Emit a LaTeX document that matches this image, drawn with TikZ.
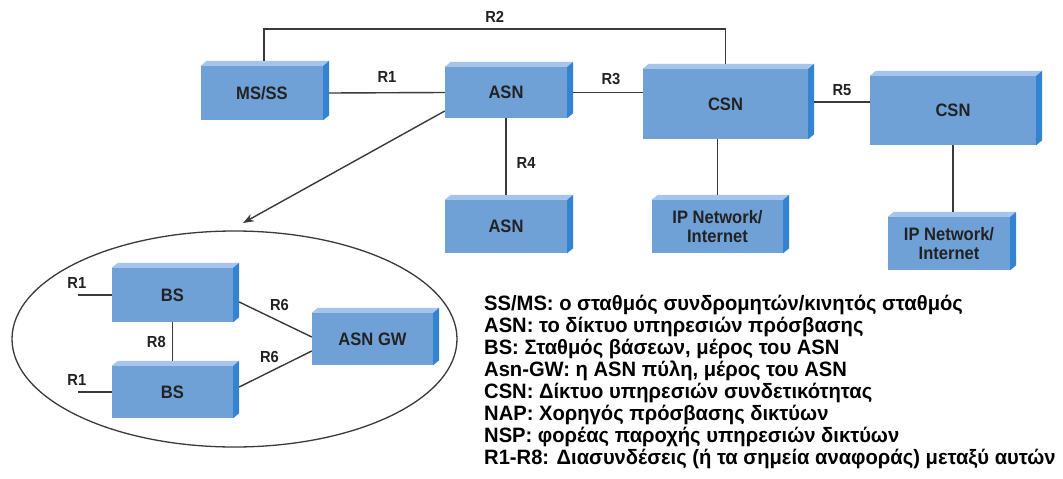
\documentclass[tikz,border=0pt]{standalone}
\usepackage{fontspec}
\setmainfont{Liberation Sans}
\newfontfamily\boxfont[FakeStretch=0.92]{Liberation Sans}
\newfontfamily\legfont[FakeStretch=0.97]{Liberation Sans}
\usetikzlibrary{arrows.meta,shapes.geometric,calc}
\definecolor{frontc}{RGB}{111,161,214}
\definecolor{topc}{RGB}{165,197,236}
\definecolor{sidec}{RGB}{50,132,208}
\definecolor{linec}{RGB}{58,58,58}
\definecolor{txtc}{RGB}{34,34,34}
\tikzset{
  cube/.style={fill=frontc, draw=none, inner sep=0pt, align=center, text=txtc,
    font=\boxfont\bfseries\fontsize{18}{19}\selectfont},
  conn/.style={draw=linec, line width=1.4pt},
  elabel/.style={inner sep=0pt, text=txtc, font=\boxfont\bfseries\fontsize{16}{18}\selectfont},
  leg/.style={inner sep=0pt, anchor=base west, text=black, font=\legfont\bfseries\fontsize{20.8}{22}\selectfont},
}
\newcommand\cubebox[6]{%
  \node[cube, minimum width={(#4-#2)*1pt}, minimum height={(#5-#3)*1pt}] (#1) at ({(#2+#4)/2},{(#3+#5)/2}) {#6};
  \fill[topc] (#1.north west) -- ++(6,-5) -- ($(#1.north east)+(6,-5)$) -- (#1.north east) -- cycle;
  \fill[sidec] (#1.north east) -- ++(6,-5) -- ($(#1.south east)+(6,-5)$) -- (#1.south east) -- cycle;
}
\begin{document}
\begin{tikzpicture}[x=1pt,y=-1pt]
\fill[white] (0,0) rectangle (1063,479);
\useasboundingbox (0,0) rectangle (1063,479);

% top level boxes
\cubebox{ms}{201}{66}{323}{120}{MS/SS}
\cubebox{asn1}{445}{67}{567}{118}{ASN}
\cubebox{csn1}{643}{69}{808}{139}{CSN}
\cubebox{csn2}{870}{76}{1036}{145}{CSN}
\cubebox{asn2}{445}{200}{567}{253}{ASN}
\cubebox{ip1}{652}{200}{783}{253}{IP Network/\\Internet}
\cubebox{ip2}{888}{217}{1010}{270}{IP Network/\\Internet}

% R2
\coordinate (r2y) at (0,29);
\coordinate (msT) at ([xshift=2pt,yshift=5pt]ms.north);
\coordinate (csT) at ([yshift=5pt]csn1.north);
\draw[conn] (msT) -- (msT |- r2y) -- node[elabel, above=6pt] (lR2) {R2} (csT |- r2y) -- (csT);

% R1
\draw[conn] ([xshift=6pt]ms.east) -- node[elabel, above=10pt] (lR1) {R1} (asn1.west);
% R3
\draw[conn] ([xshift=6pt]asn1.east) -- node[elabel, above=7pt, xshift=3pt] (lR3) {R3} (asn1.east -| csn1.west);
% R5
\coordinate (r5y) at (0,102);
\draw[conn] (csn1.east |- r5y) ++(6,0) -- node[elabel, above=6pt] (lR5) {R5} (csn2.west |- r5y);
% R4
\draw[conn] (asn1.south) -- node[elabel, right=10pt, yshift=-6pt] (lR4) {R4} ([yshift=5pt]asn2.north);
% CSN - IP
\coordinate (ip1T) at ([yshift=5pt]ip1.north);
\draw[conn] (ip1.north |- csn1.south) -- (ip1T);
\coordinate (ip2T) at ([yshift=5pt]ip2.north);
\draw[conn] (csn2.south) -- (csn2.south |- ip2T);

% ellipse
\node[draw=linec, line width=1.3pt, ellipse, minimum width=445pt, minimum height=216pt, inner sep=0pt] (ell) at (234.5,339) {};
\coordinate (arrtip) at (243,223);
\draw[conn, -{Stealth[length=11pt,width=8pt]}] ([yshift=-18.5pt]asn1.west) -- (arrtip);

% inner boxes
\cubebox{bs1}{112}{268}{233}{322}{BS}
\cubebox{bs2}{112}{366}{233}{418}{BS}
\cubebox{gw}{312}{313}{433}{365}{ASN GW}

\draw[conn] (bs1.west) -- node[elabel, above=6pt, pos=1, xshift=-1pt] (lR1a) {R1} ++(-34,0);
\draw[conn] (bs2.west) -- node[elabel, above=6pt, pos=1, xshift=-1pt] (lR1b) {R1} ++(-34,0);
\draw[conn] (bs1.south) -- node[elabel, left=6pt] (lR8) {R8} ([yshift=5pt]bs2.north);
\draw[conn] ([xshift=6pt,yshift=-7pt]bs1.east) -- node[elabel, above=8pt, xshift=4pt] (lR6a) {R6} ([yshift=2pt]gw.west);
\draw[conn] ([xshift=6pt,yshift=5pt]bs2.east) -- node[elabel, above=6pt, xshift=-6pt] (lR6b) {R6} ([yshift=-12pt]gw.west);

% legend
\node[leg] (leg1) at (484,310) {SS/MS: ο σταθμός συνδρομητών/κινητός σταθμός};
\node[leg] (leg2) at (484,332) {ASN: το δίκτυο υπηρεσιών πρόσβασης};
\node[leg] (leg3) at (484,354) {BS: Σταθμός βάσεων, μέρος του ASN};
\node[leg] (leg4) at (484,376) {Asn-GW: η ASN πύλη, μέρος του ASN};
\node[leg] (leg5) at (484,398) {CSN: Δίκτυο υπηρεσιών συνδετικότητας};
\node[leg] (leg6) at (484,420) {NAP: Χορηγός πρόσβασης δικτύων};
\node[leg] (leg7) at (484,442) {NSP: φορέας παροχής υπηρεσιών δικτύων};
\node[leg] (leg8) at (484,464) {R1-R8: Διασυνδέσεις (ή τα σημεία αναφοράς) μεταξύ αυτών};
\end{tikzpicture}
\end{document}
